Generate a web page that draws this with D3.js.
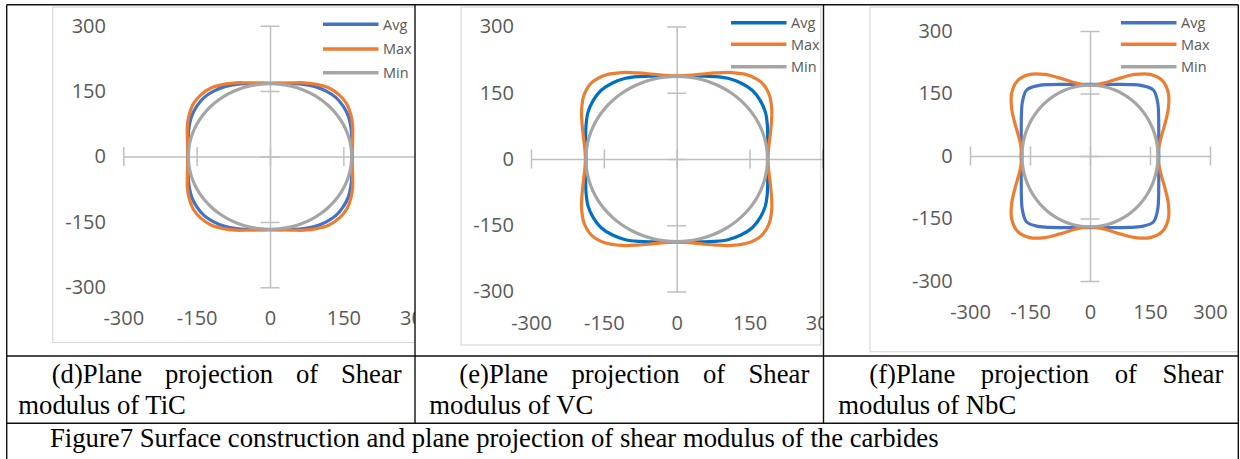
<!DOCTYPE html>
<html>
<head>
<meta charset="utf-8">
<script src="https://cdn.jsdelivr.net/npm/d3@7"></script>
<style>
  body { margin: 0; background: #fff; }
  svg { display: block; }
</style>
</head>
<body>
<script>
const angles = [0, 7.5, 15, 22.5, 30, 37.5, 45, 52.5, 60, 67.5, 75, 82.5,
                90, 97.5, 105, 112.5, 120, 127.5, 135, 142.5, 150, 157.5, 165, 172.5,
                180, 187.5, 195, 202.5, 210, 217.5, 225, 232.5, 240, 247.5, 255, 262.5,
                270, 277.5, 285, 292.5, 300, 307.5, 315, 322.5, 330, 337.5, 345, 352.5];

// shear modulus (GPa) in the projection plane, one value per angle
const ticAvg = [168,169,173,179,185,189,191,189,185,179,173,169,
                168,169,173,179,185,189,191,189,185,179,173,169,
                168,169,173,179,185,189,191,189,185,179,173,169,
                168,169,173,179,185,189,191,189,185,179,173,169];
const ticMax = [168,170,175,183,191,198,200,198,191,183,175,170,
                168,170,175,183,191,198,200,198,191,183,175,170,
                168,170,175,183,191,198,200,198,191,183,175,170,
                168,170,175,183,191,198,200,198,191,183,175,170];
const ticMin = [167,167,167,167,167,167,167,167,167,167,167,167,
                167,167,167,167,167,167,167,167,167,167,167,167,
                167,167,167,167,167,167,167,167,167,167,167,167,
                167,167,167,167,167,167,167,167,167,167,167,167];

const vcAvg = [187,189,194,202,211,217,220,217,211,202,194,189,
               187,189,194,202,211,217,220,217,211,202,194,189,
               187,189,194,202,211,217,220,217,211,202,194,189,
               187,189,194,202,211,217,220,217,211,202,194,189];
const vcMax = [188,191,199,211,226,240,246,240,226,211,199,191,
               188,191,199,211,226,240,246,240,226,211,199,191,
               188,191,199,211,226,240,246,240,226,211,199,191,
               188,191,199,211,226,240,246,240,226,211,199,191];
const vcMin = [187,187,187,187,187,187,187,187,187,187,187,187,
               187,187,187,187,187,187,187,187,187,187,187,187,
               187,187,187,187,187,187,187,187,187,187,187,187,
               187,187,187,187,187,187,187,187,187,187,187,187];

const nbcAvg = [172,173,178,186,198,213,224,213,198,186,178,173,
                172,173,178,186,198,213,224,213,198,186,178,173,
                172,173,178,186,198,213,224,213,198,186,178,173,
                172,173,178,186,198,213,224,213,198,186,178,173];
const nbcMax = [170,174,185,203,226,247,256,247,226,203,185,174,
                170,174,185,203,226,247,256,247,226,203,185,174,
                170,174,185,203,226,247,256,247,226,203,185,174,
                170,174,185,203,226,247,256,247,226,203,185,174];
const nbcMin = [170,170,170,170,170,170,170,170,170,170,170,170,
                170,170,170,170,170,170,170,170,170,170,170,170,
                170,170,170,170,170,170,170,170,170,170,170,170,
                170,170,170,170,170,170,170,170,170,170,170,170];

const seriesNames = ["Avg", "Max", "Min"];
const tickValues = [-300, -150, 0, 150, 300];

const captionTop = ["(d)Plane projection of Shear", "(e)Plane projection of Shear", "(f)Plane projection of Shear"];
const captionBottom = ["modulus of TiC", "modulus of VC", "modulus of NbC"];
const figureCaption = "Figure7 Surface construction and plane projection of shear modulus of the carbides";

const width = 1240, height = 459;
const svg = d3.select("body").append("svg")
    .attr("width", width)
    .attr("height", height);

svg.append("rect").attr("width", width).attr("height", height).attr("fill", "#fff");

const panels = [
    { data: [ticAvg, ticMax, ticMin], avgColor: "#4472c4",
      cell: [6.7, 415], box: [52.7, 7, 440, 342.5],
      xr: [123.3, 416.7], yr: [287.3, 25.7], yLabelX: 106, xLabelY: 318,
      legendX: 323, legendY: [24.3, 49, 72.7] },
    { data: [vcAvg, vcMax, vcMin], avgColor: "#0070c0",
      cell: [415, 823.5], box: [461, 7, 820.7, 345],
      xr: [531, 822.4], yr: [291.5, 26.5], yLabelX: 514, xLabelY: 322.7,
      legendX: 731, legendY: [22.7, 44.3, 66.7] },
    { data: [nbcAvg, nbcMax, nbcMin], avgColor: "#4472c4",
      cell: [823.5, 1238.3], box: [870, 7, 1250, 351.7],
      xr: [970, 1210], yr: [281, 31], yLabelX: 952.7, xLabelY: 311.7,
      legendX: 1121, legendY: [22.7, 44.3, 66.7] }
];

const axisColor = "#bfbfbf";
const labelColor = "#595959";
const fmt = d => String(d);   // plain hyphen minus like Excel

panels.forEach((p, i) => {
    const colors = [p.avgColor, "#ed7d31", "#a5a5a5"];

    svg.append("clipPath").attr("id", "clip" + i)
        .append("rect")
        .attr("x", p.cell[0]).attr("y", 5)
        .attr("width", p.cell[1] - p.cell[0]).attr("height", 351);

    const g = svg.append("g").attr("clip-path", `url(#clip${i})`);

    // chart area frame
    g.append("rect")
        .attr("x", p.box[0]).attr("y", p.box[1])
        .attr("width", p.box[2] - p.box[0]).attr("height", p.box[3] - p.box[1])
        .attr("fill", "none").attr("stroke", "#d9d9d9").attr("stroke-width", 1.2);

    const x = d3.scaleLinear().domain([-300, 300]).range(p.xr);
    const y = d3.scaleLinear().domain([-300, 300]).range(p.yr);

    // axes through the origin with cross tick marks
    const xAxis = g.append("g")
        .attr("transform", `translate(0,${y(0)})`)
        .call(d3.axisBottom(x).tickValues(tickValues).tickFormat("").tickSizeOuter(0));
    xAxis.selectAll(".tick line").attr("y1", -9.5).attr("y2", 9.5);

    const yAxis = g.append("g")
        .attr("transform", `translate(${x(0)},0)`)
        .call(d3.axisLeft(y).tickValues(tickValues).tickFormat("").tickSizeOuter(0));
    yAxis.selectAll(".tick line").attr("x1", -9.5).attr("x2", 9.5);

    [xAxis, yAxis].forEach(a => {
        a.select(".domain").attr("stroke", axisColor).attr("stroke-width", 1.5);
        a.selectAll(".tick line").attr("stroke", axisColor).attr("stroke-width", 1.5);
    });

    // labels at the low end
    const xLabels = g.append("g")
        .attr("transform", `translate(0,${p.xLabelY})`)
        .call(d3.axisBottom(x).tickValues(tickValues).tickFormat(fmt).tickSize(0).tickPadding(0));
    xLabels.select(".domain").remove();
    xLabels.selectAll("text").attr("dy", "0.36em").attr("y", 0);

    const yLabels = g.append("g")
        .attr("transform", `translate(${p.yLabelX},0)`)
        .call(d3.axisLeft(y).tickValues(tickValues).tickFormat(fmt).tickSize(0).tickPadding(0));
    yLabels.select(".domain").remove();

    [xLabels, yLabels].forEach(a => {
        a.selectAll("text")
            .attr("fill", labelColor)
            .style("font-family", "'Open Sans', sans-serif")
            .style("font-size", "20px");
    });

    // curves
    const line = d3.line()
        .x(d => x(d.r * Math.cos(d.a * Math.PI / 180)))
        .y(d => y(d.r * Math.sin(d.a * Math.PI / 180)))
        .curve(d3.curveCatmullRomClosed);

    p.data.forEach((vals, k) => {
        const pts = angles.map((a, j) => ({ a: a, r: vals[j] }));
        g.append("path")
            .attr("d", line(pts))
            .attr("fill", "none")
            .attr("stroke", colors[k])
            .attr("stroke-width", 3.2);
    });

    // legend
    const lg = g.append("g");
    seriesNames.forEach((name, k) => {
        lg.append("line")
            .attr("x1", p.legendX).attr("x2", p.legendX + 55.5)
            .attr("y1", p.legendY[k]).attr("y2", p.legendY[k])
            .attr("stroke", colors[k]).attr("stroke-width", 3.5);
        lg.append("text")
            .attr("x", p.legendX + 60).attr("y", p.legendY[k])
            .attr("dy", "0.36em")
            .attr("fill", labelColor)
            .style("font-family", "'Open Sans', sans-serif")
            .style("font-size", "14.5px")
            .text(name);
    });
});

// table grid
const grid = svg.append("g").attr("stroke", "#111").attr("stroke-width", 1.4);
const L = 6.7, R = 1238.3, T = 4.7;
grid.append("line").attr("x1", L).attr("x2", R).attr("y1", T).attr("y2", T);
grid.append("line").attr("x1", L).attr("x2", L).attr("y1", T).attr("y2", height);
grid.append("line").attr("x1", R).attr("x2", R).attr("y1", T).attr("y2", height);
[356, 423.3].forEach(yy => grid.append("line").attr("x1", L).attr("x2", R).attr("y1", yy).attr("y2", yy));
[415, 823.5].forEach(xx => grid.append("line").attr("x1", xx).attr("x2", xx).attr("y1", T).attr("y2", 423.3));

// captions
const serif = "'Liberation Serif', 'Times New Roman', serif";
const capG = svg.append("g").style("font-family", serif).style("font-size", "26.7px").attr("fill", "#000");

const topSpans = [[51.7, 401.7], [459.3, 809.3], [869.3, 1223.3]];
const bottomX = [18.3, 429.3, 838.3];

function justify(words, x0, x1, yy) {
    const texts = words.map(w => capG.append("text").attr("y", yy).text(w));
    const widths = texts.map(t => t.node().getComputedTextLength());
    const gap = (x1 - x0 - d3.sum(widths)) / (words.length - 1);
    let cx = x0;
    texts.forEach((t, j) => { t.attr("x", cx); cx += widths[j] + gap; });
}

captionTop.forEach((c, i) => justify(c.split(" "), topSpans[i][0], topSpans[i][1], 383));
captionBottom.forEach((c, i) => capG.append("text").attr("x", bottomX[i]).attr("y", 414).text(c));
capG.append("text").attr("x", 50).attr("y", 447).text(figureCaption);
</script>
</body>
</html>
